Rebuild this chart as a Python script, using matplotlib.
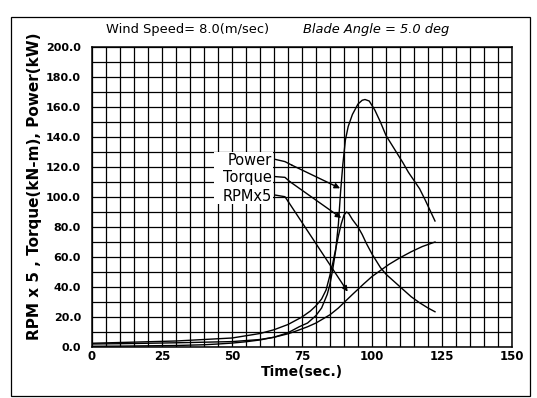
import matplotlib
matplotlib.use('Agg')
import matplotlib.pyplot as plt
import numpy as np
from matplotlib.patches import Rectangle

# values
time_power = [0, 10, 20, 30, 40, 45, 50, 55, 60, 65, 70, 74, 77, 80, 82, 84, 85, 86, 87, 88,
              88.8, 89.6, 90.5, 91.5, 93, 95, 96.5, 97.5, 99, 101, 103, 105, 107, 109, 111,
              113, 115, 117, 119, 121, 122.5]
power = [0.5, 0.6, 0.8, 1.0, 1.5, 2.0, 2.6, 3.5, 4.7, 6.5, 9.5, 13.5, 16, 21, 26, 35, 42, 52, 64, 82,
         104, 122, 138, 147, 155, 162, 164.5, 165, 164, 158, 150, 141, 135, 129, 123,
         116.5, 111, 105.5, 98, 90, 84]

time_torque = [0, 10, 20, 30, 40, 45, 50, 55, 60, 65, 70, 73, 75, 78, 80, 82, 83.6, 85, 86, 87,
               88, 89, 90, 90.9, 91.7, 93, 95, 96.5, 98, 100, 103, 105, 108, 111, 114, 117,
               120, 122.5]
torque = [2.5, 3.0, 3.5, 4.0, 5.0, 5.5, 6.0, 7.5, 9.0, 11.5, 15, 18, 20, 24, 27.5, 32, 38, 48, 56, 65,
          74, 82, 88, 90, 89, 85, 80, 75, 69, 62, 53, 48.5, 43.5, 38.5, 33.5, 29.5,
          26, 23.5]

time_rpm = [0, 10, 20, 30, 40, 50, 60, 65, 70, 73, 77, 80, 85, 88, 90.6, 93, 95, 97, 100, 103,
            106, 110, 114, 118, 122.5]
rpm5 = [2.0, 2.2, 2.5, 2.8, 3.2, 3.6, 5.0, 6.5, 8.8, 10.7, 13.5, 16, 21.5, 26, 30.7, 35, 38.5, 42, 47, 51,
        55, 59.5, 63.5, 67, 70]

xticks = [0, 25, 50, 75, 100, 125, 150]
yticks = np.arange(0, 201, 20)

fig = plt.figure(figsize=(5.37, 3.98), dpi=100)
ax = fig.add_axes([92/537, 51/398, 420/537, 300/398])

# outer frame round the whole thing
fig.patches.append(Rectangle((11/537, 2/398), 519/537, 379/398, transform=fig.transFigure,
                             fill=False, edgecolor='k', lw=0.9))

ax.plot(time_power, power, color='k', lw=1.0, zorder=4)
ax.plot(time_torque, torque, color='k', lw=1.0, zorder=4)
ax.plot(time_rpm, rpm5, color='k', lw=1.0, zorder=4)

ax.set_xlim(0, 150)
ax.set_ylim(0, 200)
ax.set_xticks(xticks)
ax.set_xticklabels([str(t) for t in xticks], fontsize=8.5, fontweight='bold')
ax.set_yticks(yticks)
ax.set_yticklabels(['%.1f' % v for v in yticks], fontsize=8, fontweight='bold')
ax.set_xticks(np.arange(0, 151, 5), minor=True)
ax.set_yticks(np.arange(0, 201, 10), minor=True)
ax.grid(True, which='both', color='k', lw=0.9)
ax.tick_params(which='both', length=0)
ax.tick_params(axis='y', pad=8)
ax.tick_params(axis='x', pad=2)
for s in ax.spines.values():
    s.set_linewidth(1.1)

# label block, white underneath so the grid doesn't show
ax.add_patch(Rectangle((43.5, 95), 21.2, 35, facecolor='white', edgecolor='none', zorder=3))
ax.text(64.3, 124, 'Power', ha='right', va='center', fontsize=10.5, zorder=5)
ax.text(64.3, 112.9, 'Torque', ha='right', va='center', fontsize=10.5, zorder=5)
ax.text(64.3, 100.2, 'RPMx5', ha='right', va='center', fontsize=10.5, zorder=5)

leaders = [([65.4, 68.9, 71.3], [125.1, 123.6, 121.3], (88.6, 105.8)),
           ([65.4, 68.9, 70.7], [113.6, 113.1, 110.2], (89.0, 86.0)),
           ([65.4, 68.9, 70.1], [101.3, 100.2, 96.9], (91.3, 36.9))]
for xs, ys, tip in leaders:
    ax.plot(xs, ys, color='k', lw=1.0, zorder=5)
    ax.annotate('', xy=tip, xytext=(xs[-1], ys[-1]), zorder=5,
                arrowprops=dict(arrowstyle='-|>', color='k', lw=1.0, mutation_scale=8,
                                shrinkA=0, shrinkB=0))

fig.text(106/537, 1 - 30/398, 'Wind Speed= 8.0(m/sec)', fontsize=9.4, va='center')
fig.text(303/537, 1 - 30/398, 'Blade Angle = 5.0 deg', fontsize=9.4, va='center', style='italic')
fig.text(35/537, 0.532, 'RPM x 5 , Torque(kN-m), Power(kW)', rotation=90, fontsize=11,
         fontweight='bold', ha='center', va='center')
fig.text(302/537, 1 - 372/398, 'Time(sec.)', fontsize=10, fontweight='bold', ha='center', va='center')

fig.savefig('out.png', dpi=100)
